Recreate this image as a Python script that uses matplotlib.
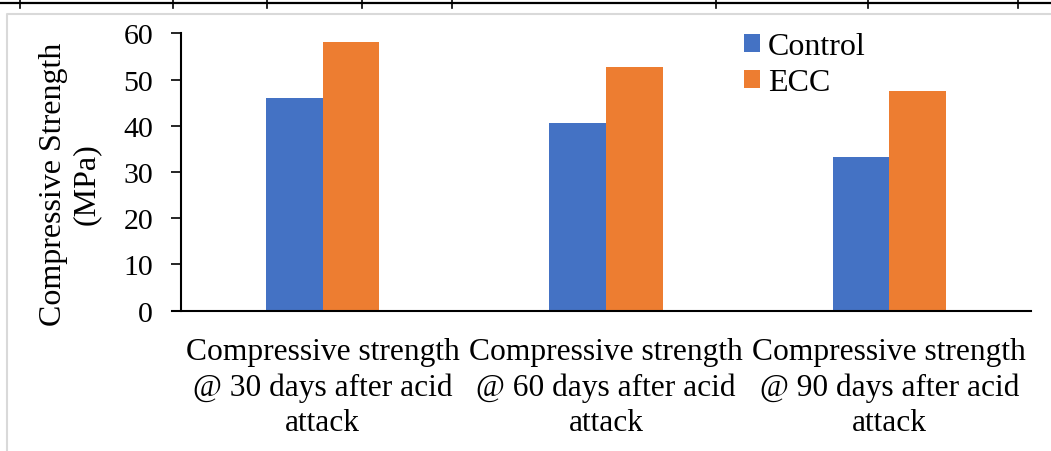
import numpy as np
import matplotlib.pyplot as plt
from matplotlib.lines import Line2D

categories = ['Compressive strength\n@ 30 days after acid\nattack',
              'Compressive strength\n@ 60 days after acid\nattack',
              'Compressive strength\n@ 90 days after acid\nattack']
control = [46.0, 40.6, 33.2]
ecc     = [58.1, 52.7, 47.5]
yticks  = [0, 10, 20, 30, 40, 50, 60]

plt.rcParams['font.family'] = ['Liberation Serif', 'DejaVu Serif']

fig = plt.figure(figsize=(10.51, 4.52), dpi=100)
ax = fig.add_axes([0.1722, 0.3104, 0.8088, 0.6137])

x = np.arange(len(categories))
w = 0.2
ax.bar(x - w/2, control, w, color='#4472C4', label='Control')
ax.bar(x + w/2, ecc, w, color='#ED7D31', label='ECC')

ax.set_xlim(-0.5, 2.5)
ax.set_ylim(0, 60)
ax.set_yticks(yticks)
ax.set_xticks(x)
ax.set_xticklabels(categories, fontsize=22.7, linespacing=1.28)
ax.tick_params(axis='x', length=0, pad=19)
ax.tick_params(axis='y', direction='out', length=7, width=1.2, labelsize=21.5, pad=13)
for s in ['top', 'right']:
    ax.spines[s].set_visible(False)
ax.spines['left'].set_linewidth(1.5)
ax.spines['bottom'].set_linewidth(1.5)
ax.spines['bottom'].set_bounds(-0.5 - 9/283.3, 2.5)

ax.set_ylabel('Compressive Strength\n(MPa)', fontsize=23, linespacing=1.2)
ax.yaxis.set_label_coords(-0.094, 0.46)

ax.legend(loc='upper left', bbox_to_anchor=(744/1051, 1 - 33/452), bbox_transform=fig.transFigure,
          frameon=False, fontsize=23, handlelength=0.5, handleheight=0.5,
          handletextpad=0.25, labelspacing=0.23, borderaxespad=0, borderpad=0)

# page decoration: table edge above the chart and the grey chart frame
H, W = 452.0, 1051.0
fig.lines.append(Line2D([0, 1], [1 - 3.5/H, 1 - 3.5/H], transform=fig.transFigure, color='black', lw=1.6))
for px in [20, 173, 267, 362, 452, 716, 868, 1018]:
    fig.lines.append(Line2D([px/W, px/W], [1, 1 - 9/H], transform=fig.transFigure, color='black', lw=1.2))
fig.lines.append(Line2D([7/W, 7/W, 1], [0, 1 - 15/H, 1 - 15/H], transform=fig.transFigure, color='#d9d9d9', lw=1.5))

fig.savefig('out.png', dpi=100)
